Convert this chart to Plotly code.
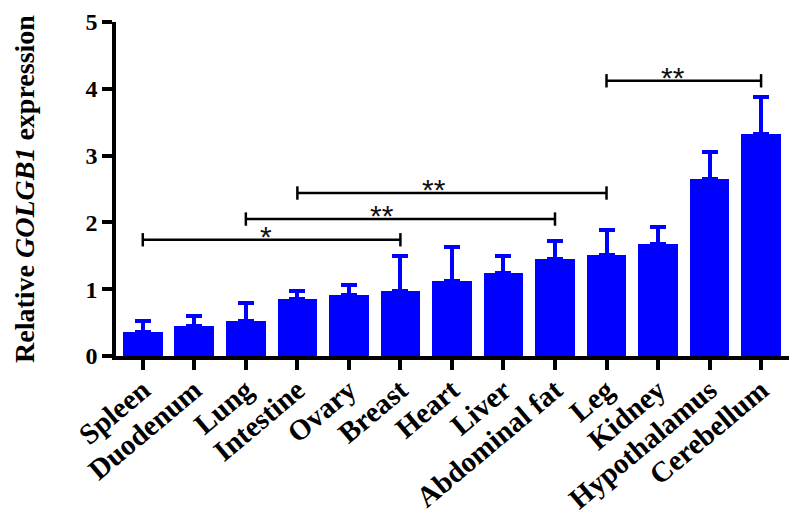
import plotly.graph_objects as go

categories = ["Spleen", "Duodenum", "Lung", "Intestine", "Ovary", "Breast", "Heart",
              "Liver", "Abdominal fat", "Leg", "Kidney", "Hypothalamus", "Cerebellum"]
means = [0.36, 0.45, 0.53, 0.85, 0.92, 0.98, 1.12, 1.24, 1.45, 1.51, 1.68, 2.65, 3.33]
sd_upper = [0.17, 0.15, 0.26, 0.12, 0.14, 0.51, 0.51, 0.25, 0.27, 0.37, 0.25, 0.40, 0.54]

# significance comparisons: (from index, to index, bracket height, label)
comp_from = [0, 2, 3, 9]
comp_to = [5, 8, 9, 12]
comp_height = [1.74, 2.05, 2.44, 4.12]
comp_label = ["*", "**", "**", "**"]

y_ticks = [0, 1, 2, 3, 4, 5]

# style: horizontal nudge of each star label (px)
star_xshift = [-6, -18, -18, -11]

BLUE = "#0000FF"
SERIF = "Liberation Serif, Times New Roman, serif"

# page body has an 8px margin; the figure is sized to fit the 797x519 window
FIG_W, FIG_H = 789, 511
M_L, M_R, M_T, M_B = 108, 5, 14, 163
plot_w = FIG_W - M_L - M_R

fig = go.Figure()
fig.add_trace(go.Bar(
    x=list(range(len(categories))), y=means,
    width=0.77,
    marker=dict(color=BLUE, line=dict(width=0)),
    error_y=dict(type="data", symmetric=False, array=sd_upper,
                 arrayminus=[0] * len(means),
                 color=BLUE, thickness=4, width=8),
))

# brackets
tick_half = 0.1
for a, b, h, lab, xs in zip(comp_from, comp_to, comp_height, comp_label, star_xshift):
    fig.add_trace(go.Scatter(
        x=[a, b, None, a, a, None, b, b],
        y=[h, h, None, h - tick_half, h + tick_half, None, h - tick_half, h + tick_half],
        mode="lines", line=dict(color="black", width=2.5),
        hoverinfo="skip", showlegend=False,
    ))
    fig.add_annotation(x=(a + b) / 2, y=h, text=lab, showarrow=False,
                       xanchor="center", yanchor="bottom", xshift=xs, yshift=-15,
                       font=dict(family="Liberation Sans, Arial, sans-serif", size=30, color="#111"))

fig.add_annotation(
    text="Relative <i>GOLGB1</i> expression", textangle=-90,
    xref="paper", yref="paper", x=(16 - M_L) / plot_w, y=0.5,
    xanchor="center", yanchor="middle", showarrow=False,
    font=dict(family=SERIF, size=28, color="black", weight="bold"),
)

fig.update_layout(
    width=FIG_W, height=FIG_H,
    margin=dict(l=M_L, r=M_R, t=M_T, b=M_B),
    plot_bgcolor="white", paper_bgcolor="white",
    showlegend=False,
    bargap=0,
    xaxis=dict(
        range=[-0.52, 12.6], automargin=False,
        tickmode="array", tickvals=list(range(len(categories))), ticktext=categories,
        tickangle=-40, ticklabelstandoff=-8,
        tickfont=dict(family=SERIF, size=29, color="black", weight="bold"),
        showline=True, linecolor="black", linewidth=3.5,
        ticks="outside", ticklen=10, tickwidth=3.5, tickcolor="black",
        showgrid=False, zeroline=False,
    ),
    yaxis=dict(
        range=[0, 5], automargin=False,
        tickmode="array", tickvals=y_ticks, ticktext=[str(t) for t in y_ticks],
        tickfont=dict(family=SERIF, size=24, color="black", weight="bold"),
        showline=True, linecolor="black", linewidth=3.5,
        ticks="outside", ticklen=10, tickwidth=3.5, tickcolor="black",
        showgrid=False, zeroline=False,
    ),
)

fig.write_html("out.html")
